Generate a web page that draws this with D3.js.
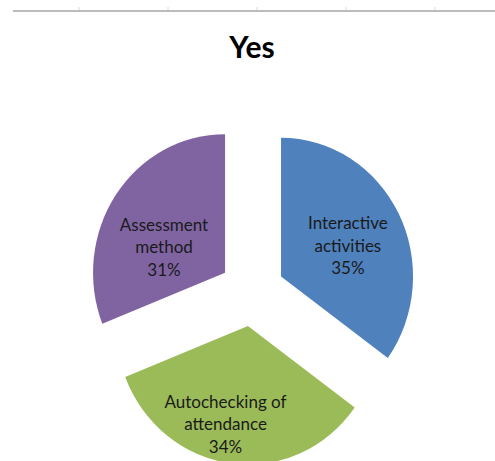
<!DOCTYPE html>
<html>
<head>
<meta charset="utf-8">
<script src="https://cdn.jsdelivr.net/npm/d3@7"></script>
<style>
  html, body { margin: 0; padding: 0; background: #fff; }
  svg { display: block; }
</style>
</head>
<body>
<svg id="chart" width="495" height="461"></svg>
<script>
// data
const categories = ['Interactive activities', 'Autochecking of attendance', 'Assessment method'];
const labelLines = [['Interactive', 'activities'], ['Autochecking of', 'attendance'], ['Assessment', 'method']];
const values = [35, 34, 31];
const colors = ['#4f81bd', '#9bbb59', '#8064a2'];
const title = 'Yes';

// layout
const width = 495, height = 461;
const cx = 252, cy = 292;
const radius = 132, stretchY = 1.05;   // picture is slightly taller than wide
const explode = 32.6;
const labelRadius = 75;
const labelNudge = [[0, 5], [-13, 20], [1, 19]];

let svg = d3.select('#chart');

// spreadsheet gridline at the top
svg.append('line')
  .attr('x1', 13).attr('x2', width)
  .attr('y1', 11).attr('y2', 11)
  .style('stroke', '#a6a6a6')
  .style('stroke-width', 1.6);

let cols = d3.range(79, width, 89);
svg.selectAll('line.col')
  .data(cols)
  .enter()
  .append('line')
  .attr('class', 'col')
  .attr('x1', d => d).attr('x2', d => d)
  .attr('y1', 7).attr('y2', 10)
  .style('stroke', '#d8d8d8');

svg.append('text')
  .attr('x', cx)
  .attr('y', 58)
  .attr('text-anchor', 'middle')
  .style('font-family', 'Lato, sans-serif')
  .style('font-weight', 'bold')
  .style('font-size', '30px')
  .style('fill', '#000')
  .text(title);

let pie = d3.pie().sort(null).value(d => d);
let arc = d3.arc().innerRadius(0).outerRadius(radius);
let slices = pie(values);

let total = d3.sum(values);
let pct = d3.format('.0%');

let g = svg.selectAll('g.slice')
  .data(slices)
  .enter()
  .append('g')
  .attr('class', 'slice');

g.append('path')
  .attr('transform', d => {
    let mid = (d.startAngle + d.endAngle) / 2;
    let x = cx + explode * Math.sin(mid);
    let y = cy - explode * Math.cos(mid) * stretchY;
    return `translate(${x},${y}) scale(1,${stretchY})`;
  })
  .attr('d', arc)
  .style('fill', (d, i) => colors[i]);

let labels = g.append('text')
  .attr('text-anchor', 'middle')
  .style('font-family', 'Lato, sans-serif')
  .style('font-size', '17px')
  .style('fill', '#1a1a1a')
  .attr('transform', (d, i) => {
    let mid = (d.startAngle + d.endAngle) / 2;
    let r = explode + labelRadius;
    let x = cx + r * Math.sin(mid) + labelNudge[i][0];
    let y = cy - r * Math.cos(mid) * stretchY + labelNudge[i][1];
    return `translate(${x},${y})`;
  });

labels.each(function(d, i) {
  let lines = labelLines[i].concat([pct(d.value / total)]);
  d3.select(this).selectAll('tspan')
    .data(lines)
    .enter()
    .append('tspan')
    .attr('x', 0)
    .attr('y', (t, j) => (j - 1) * 22.5 + 6)
    .text(t => t);
});
</script>
</body>
</html>
